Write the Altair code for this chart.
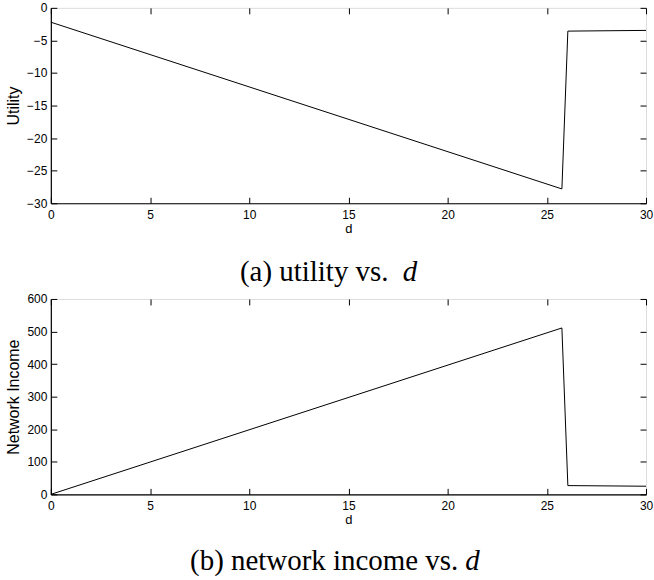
import altair as alt
import pandas as pd

# Sampled curve: d against utility and network income
d_values = [0, 25.76, 26.06, 30]
utility = [-2.2, -27.8, -3.57, -3.46]
network_income = [0, 511, 27, 25]

x_ticks = [0, 5, 10, 15, 20, 25, 30]
utility_ticks = [0, -5, -10, -15, -20, -25, -30]
income_ticks = [0, 100, 200, 300, 400, 500, 600]

caption_a = "(a) utility vs."
caption_b = "(b) network income vs."
caption_var = "d"

W, H = 597, 196
TICK = 6
SANS = "Liberation Sans"
SERIF = "Liberation Serif"

data = pd.DataFrame({"d": d_values, "Utility": utility, "Network Income": network_income})


def x_axis():
    # inward ticks on bottom and top edges come from dashed grid lines
    return alt.Axis(
        values=x_ticks, title="d", ticks=False, grid=True,
        gridDash=[TICK, H - 2 * TICK], gridColor="black", gridOpacity=1, gridWidth=1,
        domainColor="black", domainWidth=1.2,
        labelFont=SANS, labelFontSize=12, labelColor="black", labelPadding=6,
        labelFlush=False,
        titleFont=SANS, titleFontSize=13, titleFontWeight="normal", titleColor="black",
        titlePadding=2,
    )


def y_axis(ticks, title):
    return alt.Axis(
        values=ticks, title=title, ticks=False, grid=True,
        gridDash=[TICK, W - 2 * TICK], gridColor="black", gridOpacity=1, gridWidth=1,
        domainColor="black", domainWidth=1.2,
        labelFont=SANS, labelFontSize=12, labelColor="black", labelPadding=4,
        labelFlush=False,
        titleFont=SANS, titleFontSize=16, titleFontWeight="normal", titleColor="black",
        titlePadding=5,
    )


def caption(text, x_text, x_var, y):
    main = alt.Chart(pd.DataFrame({"t": [text]})).mark_text(
        font=SERIF, fontSize=29, align="left", baseline="alphabetic", color="black"
    ).encode(x=alt.value(x_text), y=alt.value(y), text="t:N")
    var = alt.Chart(pd.DataFrame({"t": [caption_var]})).mark_text(
        font=SERIF, fontSize=29, fontStyle="italic", align="left",
        baseline="alphabetic", color="black"
    ).encode(x=alt.value(x_var), y=alt.value(y), text="t:N")
    return main + var


def panel(field, ticks, domain, cap):
    line = alt.Chart(data).mark_line(color="black", strokeWidth=1).encode(
        x=alt.X("d:Q", scale=alt.Scale(domain=[0, 30], nice=False), axis=x_axis()),
        y=alt.Y(f"{field}:Q", scale=alt.Scale(domain=domain, nice=False),
                axis=y_axis(ticks, field)),
    )
    return alt.layer(line, cap).properties(width=W, height=H)


top = panel("Utility", utility_ticks, [-30, 0], caption(caption_a, 189.7, 353, 274))
bottom = panel("Network Income", income_ticks, [0, 600],
               caption(caption_b, 139.7, 415.7, 272))

chart = alt.vconcat(top, bottom, spacing=96, bounds="flush").properties(
    padding={"left": 5, "top": 0, "right": 0, "bottom": 0}
).configure_view(stroke="black", strokeWidth=1.2).configure(background="white")

chart.save("out.html", embed_options={"renderer": "svg", "actions": False})
